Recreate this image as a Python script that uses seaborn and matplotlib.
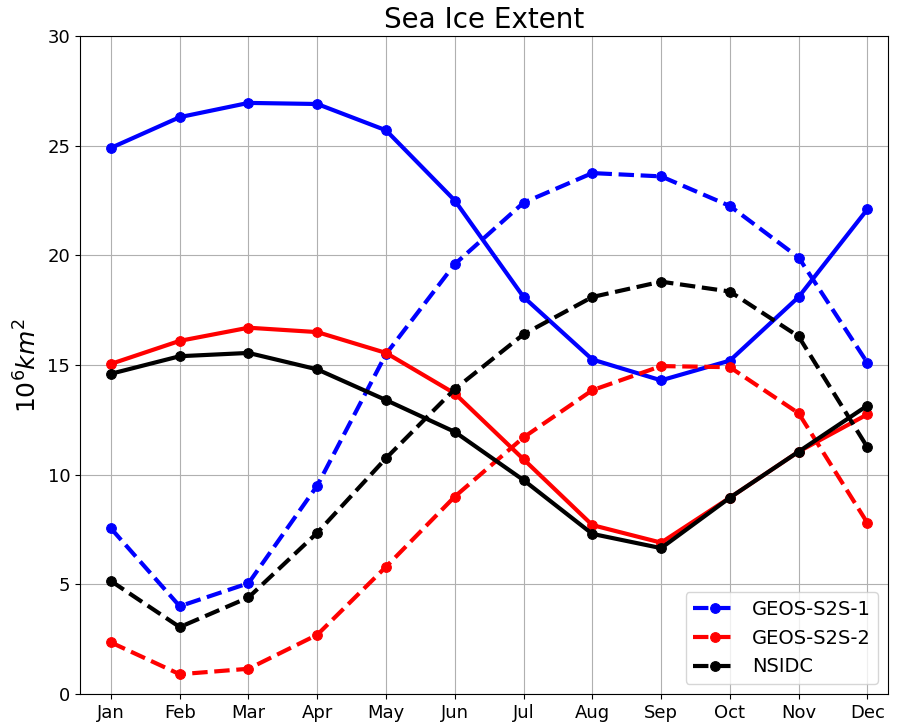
import pandas as pd
import seaborn as sns
import matplotlib
matplotlib.use('Agg')
import matplotlib.pyplot as plt

months = ['Jan', 'Feb', 'Mar', 'Apr', 'May', 'Jun', 'Jul', 'Aug', 'Sep', 'Oct', 'Nov', 'Dec']

# solid lines (first hemisphere) and dashed lines (second)
geos1_solid = [24.9, 26.3, 26.95, 26.9, 25.7, 22.5, 18.1, 15.25, 14.3, 15.2, 18.1, 22.1]
geos1_dash = [7.55, 4.0, 5.05, 9.5, 15.5, 19.6, 22.4, 23.75, 23.6, 22.25, 19.9, 15.1]
geos2_solid = [15.05, 16.1, 16.7, 16.5, 15.55, 13.7, 10.7, 7.7, 6.9, 8.95, 11.05, 12.75]
geos2_dash = [2.35, 0.9, 1.15, 2.7, 5.8, 9.0, 11.7, 13.85, 14.95, 14.9, 12.8, 7.8]
nsidc_solid = [14.6, 15.4, 15.55, 14.8, 13.4, 11.95, 9.75, 7.3, 6.65, 8.95, 11.05, 13.15]
nsidc_dash = [5.15, 3.05, 4.4, 7.35, 10.75, 13.9, 16.4, 18.1, 18.8, 18.35, 16.3, 11.25]

series = [
    ('GEOS-S2S-1', 'blue', geos1_solid, geos1_dash),
    ('GEOS-S2S-2', 'red', geos2_solid, geos2_dash),
    ('NSIDC', 'black', nsidc_solid, nsidc_dash),
]

fig = plt.figure(figsize=(9, 7.26), dpi=100)
ax = fig.add_axes([0.0889, 0.0441, 0.8978, 0.9063])

x = list(range(len(months)))
handles = []
for name, color, solid, dash in series:
    sns.lineplot(x=x, y=solid, ax=ax, color=color, linewidth=3, marker='o',
                 markersize=7, markeredgecolor=color, linestyle='-')
    sns.lineplot(x=x, y=dash, ax=ax, color=color, linewidth=3, marker='o',
                 markersize=7, markeredgecolor=color, linestyle='--')
    ln = ax.lines[-1]
    ln.set_label(name)
    handles.append(ln)

ax.set_xticks(x)
ax.set_xticklabels(months, fontsize=13)
ax.tick_params(axis='y', labelsize=13)
ax.set_xlim(-0.45, 11.3)
ax.set_ylim(0, 30)
ax.set_yticks([0, 5, 10, 15, 20, 25, 30])
ax.grid(True, color='#b0b0b0', linewidth=0.8)
ax.set_axisbelow(True)
ax.set_title('Sea Ice Extent', fontsize=20)
ax.set_ylabel('$10^6km^2$', fontsize=18)
ax.legend(handles=handles, loc='lower right', fontsize=14, handlelength=2.2)

fig.savefig('out.png', dpi=100)
